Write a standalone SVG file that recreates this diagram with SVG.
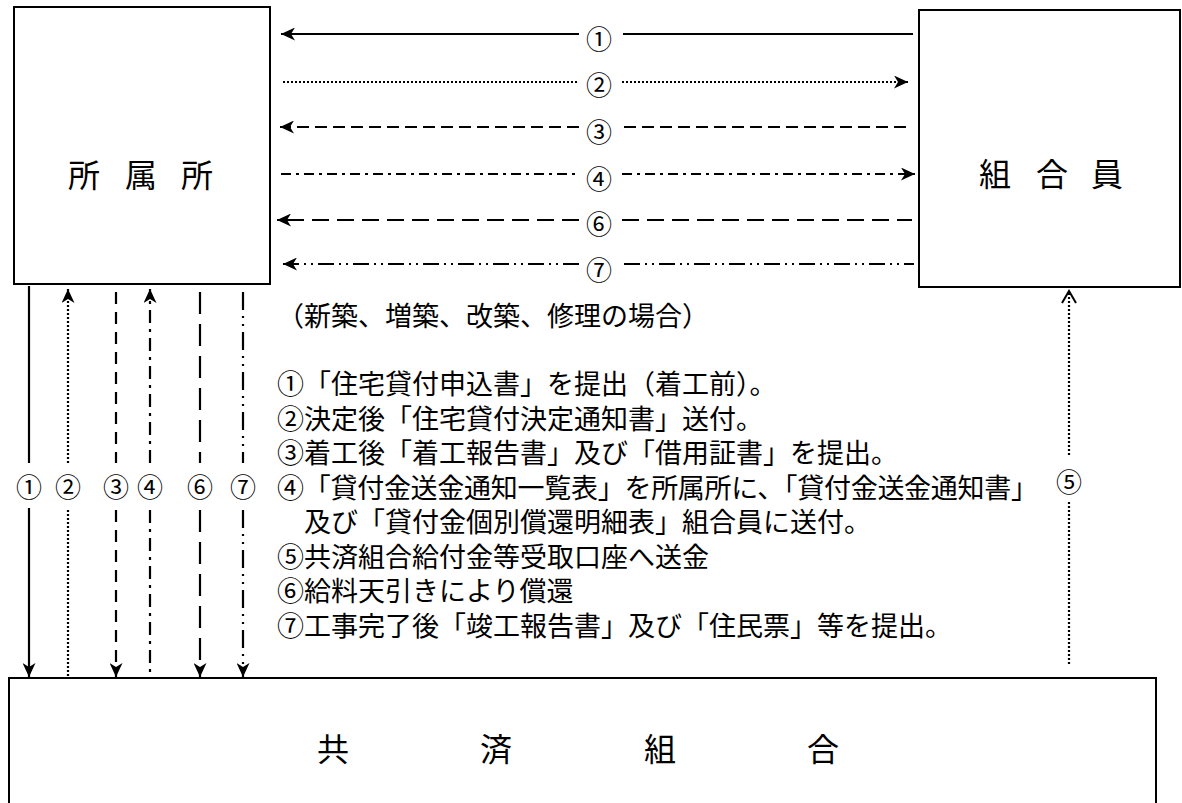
<svg xmlns="http://www.w3.org/2000/svg" width="1182" height="803" viewBox="0 0 1182 803">
<defs>
<style>
.box{fill:#fff;stroke:#000;stroke-width:2}
.big{font-family:"Noto Sans CJK JP",sans-serif;font-size:32px;fill:#000;text-anchor:middle;dominant-baseline:central}
.lbl{font-family:"Noto Sans CJK JP",sans-serif;font-size:26px;fill:#000;text-anchor:middle;dominant-baseline:central}
.txt{font-family:"Noto Sans CJK JP",sans-serif;font-size:27px;fill:#000;dominant-baseline:central}
.ln{stroke:#000;stroke-width:2.2;fill:none}
.s1{}
.s2{stroke-dasharray:2 2}
.s3{stroke-dasharray:12 6}
.s4{stroke-dasharray:10 5 3 5}
.s6{stroke-dasharray:17 8}
.s7{stroke-dasharray:16 5 2 5 2 5}
.v3{stroke-dasharray:12 8}
.v4{stroke-dasharray:13 6 3 6}
.v6{stroke-dasharray:22 10}
.v7{stroke-dasharray:18 6 2 6 2 6}
</style>
<marker id="ah" markerUnits="userSpaceOnUse" markerWidth="15" markerHeight="13" refX="14" refY="6.5" orient="auto">
<path d="M0,0 L14,6.5 L0,13 L4,6.5 z" fill="#000"/>
</marker>
<marker id="oh" markerUnits="userSpaceOnUse" markerWidth="14" markerHeight="14" refX="12" refY="7" orient="auto" overflow="visible">
<path d="M0,0 L12,7 L0,14" fill="none" stroke="#000" stroke-width="2"/>
</marker>
</defs>
<rect width="1182" height="803" fill="#fff"/>
<g id="shozokusho">
<rect class="box" x="14" y="7" width="256" height="277"/>
<text class="big" x="84" y="173">所</text>
<text class="big" x="141" y="173">属</text>
<text class="big" x="197" y="173">所</text>
</g>
<g id="kumiaiin">
<rect class="box" x="919" y="10" width="261" height="277"/>
<text class="big" x="995" y="172">組</text>
<text class="big" x="1052" y="172">合</text>
<text class="big" x="1107" y="172">員</text>
</g>
<g id="kyosaikumiai">
<rect class="box" x="9" y="678" width="1147" height="200"/>
<text class="big" x="333" y="747">共</text>
<text class="big" x="496" y="747">済</text>
<text class="big" x="660" y="747">組</text>
<text class="big" x="823" y="747">合</text>
</g>
<g id="connectors">
<line class="ln s1" x1="579" y1="34" x2="281" y2="34" marker-end="url(#ah)"/>
<line class="ln s1" x1="623" y1="34" x2="913" y2="34"/>
<line class="ln s2" x1="283" y1="82" x2="578" y2="82"/>
<line class="ln s2" x1="622" y1="82" x2="908" y2="82" marker-end="url(#ah)"/>
<line class="ln s3" x1="579" y1="127" x2="280" y2="127" marker-end="url(#ah)"/>
<line class="ln s3" x1="624" y1="127" x2="909" y2="127"/>
<line class="ln s4" x1="281" y1="174" x2="578" y2="174"/>
<line class="ln s4" x1="622" y1="174" x2="915" y2="174" marker-end="url(#ah)"/>
<line class="ln s6" x1="579" y1="220" x2="277" y2="220" marker-end="url(#ah)"/>
<line class="ln s6" x1="622" y1="220" x2="912" y2="220"/>
<line class="ln s7" x1="579" y1="264" x2="283" y2="264" marker-end="url(#ah)"/>
<line class="ln s7" x1="624" y1="264" x2="914" y2="264"/>
<line class="ln s1" x1="29" y1="286" x2="29" y2="463"/>
<line class="ln s1" x1="29" y1="508" x2="29" y2="677" marker-end="url(#ah)"/>
<line class="ln s2" x1="68" y1="463" x2="68" y2="289" marker-end="url(#ah)"/>
<line class="ln s2" x1="68" y1="510" x2="68" y2="677"/>
<line class="ln v3" x1="116" y1="292" x2="116" y2="463"/>
<line class="ln v3" x1="116" y1="510" x2="116" y2="677" marker-end="url(#ah)"/>
<line class="ln v4" x1="150" y1="463" x2="150" y2="289" marker-end="url(#ah)"/>
<line class="ln v4" x1="150" y1="510" x2="150" y2="677"/>
<line class="ln v6" x1="200" y1="292" x2="200" y2="463"/>
<line class="ln v6" x1="200" y1="510" x2="200" y2="677" marker-end="url(#ah)"/>
<line class="ln v7" x1="243" y1="292" x2="243" y2="463"/>
<line class="ln v7" x1="243" y1="510" x2="243" y2="677" marker-end="url(#ah)"/>
<line class="ln s2" x1="1069" y1="455" x2="1069" y2="291" marker-end="url(#oh)"/>
<line class="ln s2" x1="1069" y1="502" x2="1069" y2="665"/>
</g>
<g id="labels">
<text class="lbl" x="599" y="37">①</text>
<text class="lbl" x="599" y="83">②</text>
<text class="lbl" x="599" y="130">③</text>
<text class="lbl" x="599" y="177">④</text>
<text class="lbl" x="599" y="222">⑥</text>
<text class="lbl" x="599" y="268">⑦</text>
<text class="lbl" x="29" y="485">①</text>
<text class="lbl" x="68" y="485">②</text>
<text class="lbl" x="116" y="485">③</text>
<text class="lbl" x="150" y="485">④</text>
<text class="lbl" x="200" y="485">⑥</text>
<text class="lbl" x="243" y="485">⑦</text>
<text class="lbl" x="1069" y="480">⑤</text>
</g>
<g id="notes">
<text class="txt" x="277" y="314">（新築、増築、改築、修理の場合）</text>
<text class="txt" x="277" y="382">①「住宅貸付申込書」を提出（着工前）。</text>
<text class="txt" x="277" y="417">②決定後「住宅貸付決定通知書」送付。</text>
<text class="txt" x="277" y="451">③着工後「着工報告書」及び「借用証書」を提出。</text>
<text class="txt" x="277" y="486" textLength="761" lengthAdjust="spacing">④「貸付金送金通知一覧表」を所属所に、「貸付金送金通知書」</text>
<text class="txt" x="277" y="520">　及び「貸付金個別償還明細表」組合員に送付。</text>
<text class="txt" x="277" y="555">⑤共済組合給付金等受取口座へ送金</text>
<text class="txt" x="277" y="589">⑥給料天引きにより償還</text>
<text class="txt" x="277" y="624">⑦工事完了後「竣工報告書」及び「住民票」等を提出。</text>
</g>
</svg>
